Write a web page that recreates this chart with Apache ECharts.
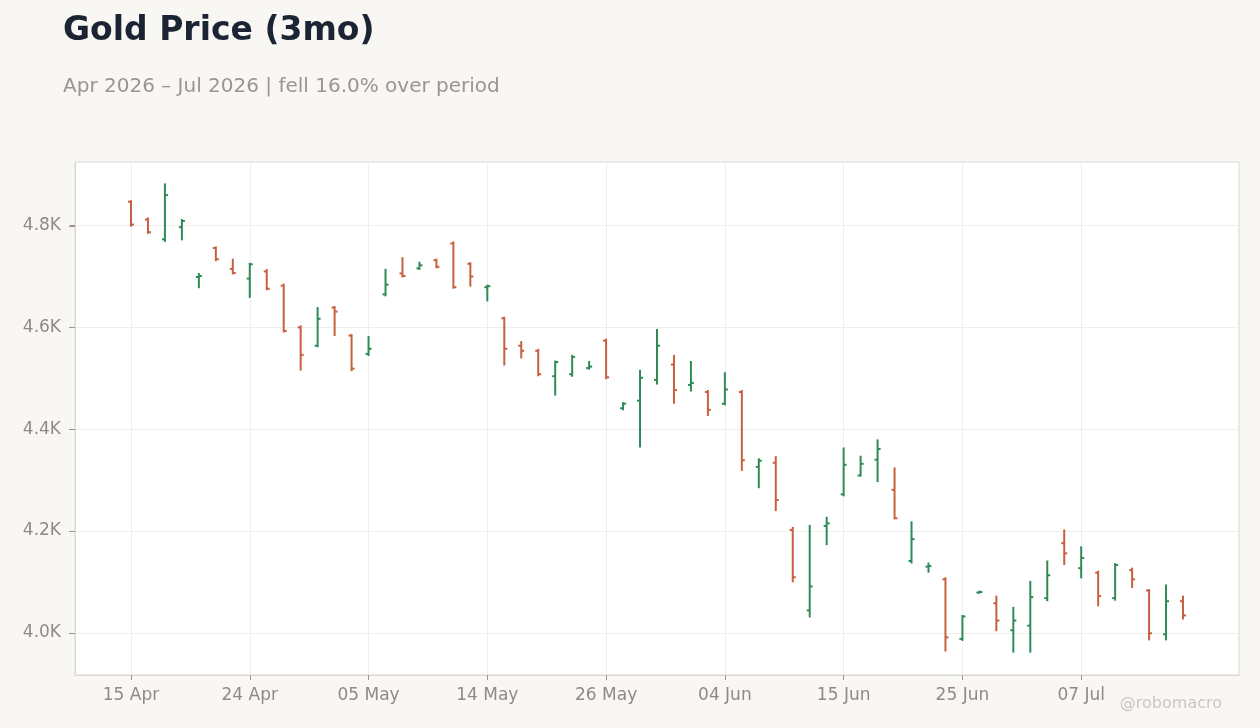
<!DOCTYPE html>
<html>
<head>
<meta charset="utf-8">
<script src="https://cdn.jsdelivr.net/npm/echarts@6/dist/echarts.min.js"></script>
</head>
<body style="margin:0;background:#f8f7f4">
<div id="main" style="width:1260px;height:728px;"></div>
<script>
// trading days shown on the x axis
var dates = ['15 Apr','16 Apr','17 Apr','20 Apr','21 Apr','22 Apr','23 Apr','24 Apr','27 Apr','28 Apr',
  '29 Apr','30 Apr','01 May','04 May','05 May','06 May','07 May','08 May','11 May','12 May',
  '13 May','14 May','15 May','18 May','19 May','20 May','21 May','22 May','26 May','27 May',
  '28 May','29 May','01 Jun','02 Jun','03 Jun','04 Jun','05 Jun','08 Jun','09 Jun','10 Jun',
  '11 Jun','12 Jun','15 Jun','16 Jun','17 Jun','18 Jun','22 Jun','23 Jun','24 Jun','25 Jun',
  '26 Jun','29 Jun','30 Jun','01 Jul','02 Jul','06 Jul','07 Jul','08 Jul','09 Jul','10 Jul',
  '13 Jul','14 Jul','15 Jul'];
var opens  = [4847,4812,4773,4797,4699,4756,4715,4696,4710,4682,4600,4564,4639,4584,4548,4665,4706,4716,4732,4765,
  4725,4679,4618,4564,4554,4504,4508,4520,4574,4441,4456,4497,4527,4487,4473,4450,4473,4326,4334,4202,
  4044,4210,4272,4309,4340,4281,4141,4130,4105,3988,4079,4058,4005,4014,4068,4176,4127,4118,4068,4123,
  4083,3997,4062];
var closes = [4802,4787,4860,4809,4701,4734,4707,4724,4676,4593,4546,4617,4631,4519,4558,4684,4701,4722,4719,4679,
  4700,4681,4558,4554,4508,4532,4542,4523,4502,4450,4501,4564,4477,4491,4438,4478,4339,4338,4261,4109,
  4091,4215,4330,4332,4361,4225,4184,4131,3991,4032,4080,4024,4024,4070,4113,4156,4147,4072,4133,4105,
  3999,4062,4034];
var lows   = [4800,4786,4770,4773,4679,4732,4706,4660,4675,4592,4517,4563,4585,4516,4546,4663,4700,4715,4718,4678,
  4682,4653,4527,4541,4506,4468,4505,4519,4500,4439,4366,4490,4452,4476,4428,4449,4320,4286,4241,4101,
  4032,4174,4270,4309,4298,4225,4138,4120,3965,3986,4079,4005,3963,3963,4064,4135,4109,4054,4065,4090,
  3987,3987,4028];
var highs  = [4848,4814,4881,4811,4705,4757,4733,4725,4713,4684,4602,4638,4640,4585,4581,4713,4736,4727,4733,4767,
  4726,4682,4619,4571,4556,4533,4544,4532,4576,4451,4515,4595,4544,4532,4475,4510,4475,4341,4345,4206,
  4210,4226,4362,4346,4378,4323,4217,4136,4107,4033,4081,4071,4049,4100,4140,4201,4168,4120,4135,4126,
  4084,4093,4071];
var xTicks = [0,7,14,21,28,35,42,49,56];
var yTicks = [4000,4200,4400,4600,4800];

var upColor = '#2e8b57';
var downColor = '#c8603f';
var tickColor = '#9a9590';

var myChart = echarts.init(document.getElementById('main'));

var ohlc = [];
for (var i = 0; i < dates.length; i++) {
  ohlc.push([i, opens[i], closes[i], lows[i], highs[i]]);
}

// open tick on the left, close tick on the right
function renderBar(params, api) {
  var x = api.value(0);
  var o = api.coord([x, api.value(1)]);
  var c = api.coord([x, api.value(2)]);
  var l = api.coord([x, api.value(3)]);
  var h = api.coord([x, api.value(4)]);
  var color = api.value(2) >= api.value(1) ? upColor : downColor;
  var st = { stroke: color, lineWidth: 2 };
  return {
    type: 'group',
    children: [
      { type: 'line', shape: { x1: h[0], y1: h[1] - 1, x2: l[0], y2: l[1] + 1 }, style: st },
      { type: 'line', shape: { x1: o[0] - 3, y1: o[1], x2: o[0], y2: o[1] }, style: st },
      { type: 'line', shape: { x1: c[0], y1: c[1], x2: c[0] + 3, y2: c[1] }, style: st }
    ]
  };
}

// small outside ticks on the y axis
function renderYTick(params, api) {
  var p = api.coord([0, api.value(0)]);
  var left = params.coordSys.x;
  var y = Math.round(p[1]) + 0.5;
  return {
    type: 'line',
    shape: { x1: left - 6, y1: y, x2: left, y2: y },
    style: { stroke: tickColor, lineWidth: 1 }
  };
}

var option = {
  backgroundColor: '#f8f7f4',
  animation: false,
  textStyle: { fontFamily: 'DejaVu Sans' },
  title: [
    {
      text: 'Gold Price (3mo)',
      left: 58, top: 10,
      textStyle: { fontSize: 33, fontWeight: 'bold', color: '#1b2433', fontFamily: 'DejaVu Sans' }
    },
    {
      text: 'Apr 2026 – Jul 2026 | fell 16.0% over period',
      left: 58, top: 72,
      textStyle: { fontSize: 20, fontWeight: 'normal', color: '#9a9590', fontFamily: 'DejaVu Sans' }
    }
  ],
  graphic: [
    {
      type: 'text', right: 38, top: 696,
      style: { text: '@robomacro', fontSize: 16, fill: '#cbc7c1', fontFamily: 'DejaVu Sans' }
    }
  ],
  grid: {
    left: 75, right: 21, top: 162, bottom: 53,
    show: true, backgroundColor: '#ffffff', borderColor: '#dcd8d1', borderWidth: 1
  },
  xAxis: {
    type: 'value',
    min: -3.3, max: 65.3,
    axisLine: { show: true, onZero: false, lineStyle: { color: '#dcd8d1' } },
    axisTick: { show: true, length: 5, customValues: xTicks, lineStyle: { color: tickColor } },
    axisLabel: {
      customValues: xTicks, margin: 12, fontSize: 17, color: '#8f8a85',
      formatter: function (v) { return dates[Math.round(v)] || ''; }
    },
    splitLine: { show: true, lineStyle: { color: '#eeeeee' } }
  },
  yAxis: {
    type: 'value',
    min: 3917, max: 4925,
    axisLine: { show: true, onZero: false, lineStyle: { color: '#dcd8d1' } },
    axisTick: { show: true, length: 5, customValues: yTicks, lineStyle: { color: tickColor } },
    axisLabel: {
      customValues: yTicks, margin: 14, fontSize: 17, color: '#8f8a85',
      formatter: function (v) { return (v / 1000).toFixed(1) + 'K'; }
    },
    splitLine: { show: true, lineStyle: { color: '#eeeeee' } }
  },
  series: [
    {
      type: 'custom',
      renderItem: renderBar,
      encode: { x: 0, y: [1, 2, 3, 4] },
      data: ohlc
    },
    {
      type: 'custom',
      silent: true,
      clip: false,
      renderItem: renderYTick,
      encode: { y: 0 },
      data: yTicks.map(function (v) { return [v]; })
    }
  ]
};

myChart.setOption(option);
</script>
</body>
</html>
